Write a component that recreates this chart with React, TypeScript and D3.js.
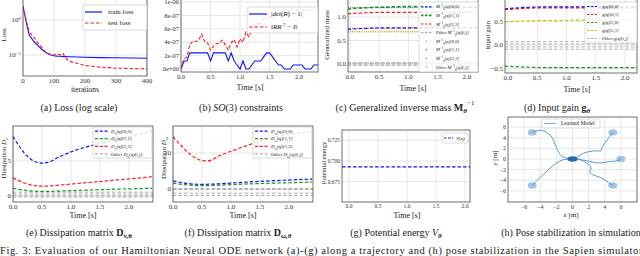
import React, { useEffect, useRef } from 'react';
import * as d3 from 'd3';

// (a) loss curves
const lossIters = [0, 5, 10, 20, 30, 40, 50, 60, 75, 90, 100, 110, 120, 130, 135, 150, 200, 250, 300, 350, 400];
const trainLoss = [2.5, 1.5, 0.9, 0.37, 0.28, 0.22, 0.18, 0.146, 0.116, 0.1, 0.095, 0.093, 0.092, 0.09, 0.09, 0.089, 0.086, 0.084, 0.083, 0.082, 0.081];
const testLoss = [2.5, 1.6, 1.0, 0.46, 0.36, 0.28, 0.21, 0.17, 0.112, 0.104, 0.1, 0.108, 0.1, 0.11, 0.085, 0.066, 0.05, 0.045, 0.042, 0.041, 0.04];

// (b) SO(3) constraint errors
const soTime = [0, 0.05, 0.1, 0.15, 0.2, 0.25, 0.3, 0.35, 0.4, 0.45, 0.5, 0.55, 0.6, 0.65, 0.7, 0.75, 0.8, 0.85, 0.9, 0.95, 1.0, 1.05, 1.1, 1.15, 1.2, 1.25, 1.3, 1.35, 1.4, 1.45, 1.5, 1.55, 1.6, 1.65, 1.7, 1.75, 1.8, 1.85, 1.9, 1.95, 2.0, 2.05, 2.1, 2.15, 2.2, 2.25, 2.3, 2.35];
const detErr = [0, 1.2e-7, 1.2e-7, 2.4e-7, 2.4e-7, 2.4e-7, 2.4e-7, 2.4e-7, 2.4e-7, 2.4e-7, 1.2e-7, 2.4e-7, 2.4e-7, 2.4e-7, 2.4e-7, 2.4e-7, 1.2e-7, 2.4e-7, 1.2e-7, 0.6e-7, 0, 1.2e-7, 0, 0, 0.6e-7, 1.2e-7, 1.2e-7, 1.2e-7, 1.8e-7, 2.4e-7, 2.4e-7, 1.8e-7, 1.2e-7, 0.6e-7, 0.6e-7, 0, 0, 0, 0.6e-7, 0.6e-7, 0.6e-7, 0.6e-7, 0, 0, 0, 0.6e-7, 0.6e-7, 0.6e-7];
const rrtErr = [0, 1.5e-7, 1.8e-7, 3.6e-7, 4.2e-7, 4.1e-7, 4.3e-7, 5.2e-7, 4.1e-7, 3.9e-7, 2.8e-7, 3.4e-7, 3.8e-7, 3.8e-7, 4.3e-7, 3.6e-7, 2.8e-7, 3.9e-7, 4.4e-7, 3.3e-7, 4.5e-7, 4.0e-7, 5.5e-7, 4.8e-7, 6.0e-7, 6.4e-7, 7.0e-7, 6.8e-7, 7.4e-7, 7.8e-7, 7.5e-7, 8.0e-7, 8.3e-7, 7.9e-7, 8.4e-7, 8.6e-7, 8.2e-7, 8.8e-7, 8.9e-7, 8.7e-7, 8.9e-7, 8.8e-7, 8.6e-7, 8.9e-7, 8.8e-7, 8.7e-7, 8.9e-7, 8.8e-7];

// (c) generalized inverse mass
const massTime = [-0.04, 0.3, 0.6, 0.9, 1.2, 1.5, 1.8, 2.1, 2.4];
const massInv00 = [0.74, 0.76, 0.77, 0.77, 0.77, 0.77, 0.77, 0.77, 0.77];
const massInv11 = [1.17, 1.2, 1.21, 1.22, 1.22, 1.21, 1.21, 1.21, 1.21];
const massInv22 = [1.07, 1.09, 1.1, 1.1, 1.1, 1.1, 1.1, 1.1, 1.1];
const massOther = [[0.03, 0.03, 0.03, 0.03, 0.03, 0.03, 0.03, 0.03, 0.03], [0, 0, 0, 0, 0, 0, 0, 0, 0], [-0.03, -0.03, -0.03, -0.03, -0.03, -0.03, -0.03, -0.03, -0.03]];
const massTrue00 = [0.76, 0.76, 0.76, 0.76, 0.76, 0.76, 0.76, 0.76, 0.76];
const massTrue11 = [1.2, 1.2, 1.2, 1.2, 1.2, 1.2, 1.2, 1.2, 1.2];
const massTrue22 = [0.69, 0.69, 0.69, 0.69, 0.69, 0.69, 0.69, 0.69, 0.69];
const massTrueOther = [0.01, 0.01, 0.01, 0.01, 0.01, 0.01, 0.01, 0.01, 0.01];

// (d) input gain
const gainTime = [-0.06, 0.3, 0.6, 0.9, 1.2, 1.5, 1.8, 2.1, 2.4];
const gain00 = [0.77, 0.8, 0.81, 0.81, 0.81, 0.81, 0.81, 0.81, 0.81];
const gain01 = [0.75, 0.78, 0.79, 0.79, 0.79, 0.79, 0.79, 0.79, 0.79];
const gain50 = [-0.45, -0.47, -0.48, -0.48, -0.48, -0.48, -0.48, -0.48, -0.48];
const gain51 = [0.49, 0.51, 0.52, 0.52, 0.53, 0.53, 0.53, 0.53, 0.53];
const gainOther = [[0.07, 0.07, 0.07, 0.07, 0.07, 0.07, 0.07, 0.07, 0.07], [0.02, 0.02, 0.02, 0.02, 0.02, 0.02, 0.02, 0.02, 0.02], [-0.04, -0.04, -0.04, -0.04, -0.04, -0.04, -0.04, -0.04, -0.04], [-0.09, -0.09, -0.09, -0.09, -0.09, -0.09, -0.09, -0.09, -0.09]];

// (e), (f) dissipation
const dissTime = [0, 0.1, 0.2, 0.3, 0.4, 0.5, 0.6, 0.8, 1.0, 1.2, 1.4, 1.6, 1.8, 2.0, 2.2, 2.4];
const dissV00 = [8.5, 7.2, 6.1, 5.3, 4.85, 4.7, 4.8, 5.6, 6.3, 6.85, 7.3, 7.7, 8.1, 8.5, 8.9, 9.3];
const dissV11 = [1.1, 0.95, 0.82, 0.72, 0.67, 0.65, 0.66, 0.7, 0.76, 0.82, 0.88, 0.93, 0.98, 1.02, 1.06, 1.1];
const dissV22 = [2.6, 2.2, 1.85, 1.6, 1.45, 1.4, 1.42, 1.55, 1.7, 1.85, 2.0, 2.15, 2.3, 2.45, 2.6, 2.75];
const dissVOther = [0.55, 0.3, 0.05, -0.15];
const dissW00 = [4.5, 3.9, 3.3, 2.9, 2.65, 2.6, 2.65, 2.9, 3.3, 3.7, 4.1, 4.4, 4.7, 5.0, 5.3, 5.5];
const dissW11 = [3.3, 2.8, 2.4, 2.1, 1.9, 1.85, 1.9, 2.1, 2.4, 2.7, 2.95, 3.15, 3.35, 3.5, 3.7, 3.9];
const dissW22 = [29, 25.5, 22, 19.2, 17, 15.8, 15.6, 18.5, 21, 23.3, 25.5, 27.4, 29, 30.3, 31.2, 32];
const dissWOther = [0.3, -0.3, -2.3, -3.6];

// (g) potential energy
const potTime = [-0.12, 0.5, 1.0, 1.5, 2.1];
const potential = [0.693, 0.693, 0.693, 0.693, 0.693];

// (h) pose stabilization trajectories [x, y] in m
const poseStarts = [[-5, 5], [5, 5], [6, 0], [5, -5], [-5, -5]];
const posePaths = [
  [[-5, 5], [-3.9, 5.4], [-2.7, 4.4], [-2.0, 2.2], [-1.4, 0.6], [-0.6, 0.1], [0, 0]],
  [[5, 5], [4.3, 3.6], [3.6, 1.9], [3.6, 1.6], [2.5, 1.5], [1.4, 1.1], [0.5, 0.3], [0, 0]],
  [[6, 0], [5.6, -0.3], [4.6, -0.5], [3.2, -0.75], [1.8, -0.35], [0.7, -0.05], [0, 0]],
  [[5, -5], [3.6, -3.6], [2.15, -2.6], [2.3, -1.7], [1.74, -0.75], [0.9, -0.13], [0, 0]],
  [[-5, -5], [-3.4, -2.6], [-2.2, -1.0], [-1.15, -0.15], [0, 0]],
];

const timeTicks = [0, 0.5, 1, 1.5, 2];
const FONT = "'Liberation Serif', 'Times New Roman', serif";
const GRID = '#d6d6d6';
const BLUE = '#1010ff';
const RED = '#ff1a1a';
const GREEN = '#1e961e';
const YELLOW = '#c8c800';
const GRAY = '#b0b0b0';
const DASH = '3.5 2';

type Part = [string, string?];

function rich(sel: any, parts: Part[]) {
  sel.style('font-family', FONT);
  parts.forEach(([t, k]) => {
    const s = sel.append('tspan').text(t);
    if (k && k.includes('sub')) s.attr('baseline-shift', 'sub').attr('font-size', '70%');
    if (k && k.includes('sup')) s.attr('baseline-shift', 'super').attr('font-size', '70%');
    if (k && k.includes('it')) s.attr('font-style', 'italic');
    if (k && k.includes('bf')) s.attr('font-weight', 'bold');
  });
}

function makePanel(svg: any, o: any) {
  const { id, box, xDom, yDom, xTicks, yTicks, fmtX, fmtY, log, fs } = o;
  const x = d3.scaleLinear().domain(xDom).range([box.l, box.r]);
  const y: any = log
    ? d3.scaleLog().domain(yDom).range([box.b, box.t])
    : d3.scaleLinear().domain(yDom).range([box.b, box.t]);
  svg.append('clipPath').attr('id', id).append('rect')
    .attr('x', box.l).attr('y', box.t).attr('width', box.r - box.l).attr('height', box.b - box.t);
  const g = svg.append('g');
  g.selectAll('.gx').data(xTicks).enter().append('line')
    .attr('x1', (d: number) => x(d)).attr('x2', (d: number) => x(d))
    .attr('y1', box.t).attr('y2', box.b).attr('stroke', GRID).attr('stroke-width', 0.6);
  g.selectAll('.gy').data(yTicks).enter().append('line')
    .attr('y1', (d: number) => y(d)).attr('y2', (d: number) => y(d))
    .attr('x1', box.l).attr('x2', box.r).attr('stroke', GRID).attr('stroke-width', 0.6);
  xTicks.forEach((d: number) => {
    const t = g.append('text').attr('x', x(d)).attr('y', box.b + 2 + fs * 0.75)
      .attr('text-anchor', 'middle').attr('font-size', fs).attr('fill', '#333');
    rich(t, fmtX(d));
  });
  yTicks.forEach((d: number) => {
    const t = g.append('text').attr('x', box.l - 2).attr('y', y(d) + fs * 0.35)
      .attr('text-anchor', 'end').attr('font-size', fs).attr('fill', '#333');
    rich(t, fmtY(d));
  });
  const plot = svg.append('g').attr('clip-path', `url(#${id})`);
  const frame = () => svg.append('rect').attr('x', box.l).attr('y', box.t)
    .attr('width', box.r - box.l).attr('height', box.b - box.t)
    .attr('fill', 'none').attr('stroke', '#333').attr('stroke-width', 0.7);
  return { x, y, plot, frame };
}

function series(p: any, xs: number[], ys: number[], color: string, dash: string | null, w = 1, curve: any = d3.curveLinear) {
  const line = d3.line<number>().x((_, i) => p.x(xs[i])).y((d) => p.y(d)).curve(curve);
  p.plot.append('path').attr('d', line(ys)).attr('fill', 'none').attr('stroke', color)
    .attr('stroke-width', w).attr('stroke-dasharray', dash);
}

function legend(svg: any, o: any) {
  const { x, y, w, h, row, fs, sample, gap, entries } = o;
  svg.append('rect').attr('x', x).attr('y', y).attr('width', w).attr('height', h)
    .attr('fill', '#fff').attr('fill-opacity', 0.85).attr('stroke', '#c4c4c4').attr('stroke-width', 0.6).attr('rx', 1);
  entries.forEach((e: any, i: number) => {
    const cy = y + (o.padY || 0) + row * (i + 0.5);
    const x0 = x + 2;
    if (e.dot) {
      svg.append('circle').attr('cx', x0 + sample / 2).attr('cy', cy).attr('r', 0.8).attr('fill', e.color);
    } else {
      svg.append('line').attr('x1', x0).attr('x2', x0 + sample).attr('y1', cy).attr('y2', cy)
        .attr('stroke', e.color).attr('stroke-width', e.w || 1.2).attr('stroke-dasharray', e.dash || null);
    }
    const t = svg.append('text').attr('x', x0 + sample + gap).attr('y', cy + fs * 0.35)
      .attr('font-size', fs).attr('fill', '#222');
    rich(t, e.label);
  });
}

function label(svg: any, x: number, y: number, parts: Part[], fs: number, rot = false, anchor = 'middle') {
  const t = svg.append('text').attr('x', x).attr('y', y).attr('font-size', fs).attr('fill', '#222')
    .attr('text-anchor', anchor).attr('dominant-baseline', 'central');
  if (rot) t.attr('transform', `rotate(-90 ${x} ${y})`);
  rich(t, parts);
}

const num = (dp: number) => (d: number): Part[] => [[d < 0 ? '\u2212' + Math.abs(d).toFixed(dp) : d.toFixed(dp)]];

const App = () => {
  const ref = useRef<SVGSVGElement>(null);

  useEffect(() => {
    const svg = d3.select(ref.current);
    svg.selectAll('*').remove();
    svg.append('rect').attr('width', 640).attr('height', 256).attr('fill', '#fff');

    // (a) loss
    const pa = makePanel(svg, {
      id: 'ca', box: { l: 23, r: 147, t: -1, b: 76 }, xDom: [0, 400], yDom: [0.0251, 3.98], log: true,
      xTicks: [0, 100, 200, 300, 400], yTicks: [1, 0.1], fs: 7,
      fmtX: num(0), fmtY: (d: number) => [['10'], [d === 1 ? '0' : '\u22121', 'sup']],
    });
    series(pa, lossIters, trainLoss, BLUE, null, 1.1);
    series(pa, lossIters, testLoss, RED, DASH, 1.1);
    pa.frame();
    legend(svg, {
      x: 83, y: 5, w: 64, h: 25, row: 11, padY: 1.5, fs: 7, sample: 17, gap: 6,
      entries: [{ color: BLUE, label: [['train loss']] }, { color: RED, dash: DASH, label: [['test loss']] }],
    });
    label(svg, 4, 35, [['Loss']], 7, true);
    label(svg, 85, 89, [['iterations']], 7.5);

    // (b) SO(3)
    const pb = makePanel(svg, {
      id: 'cb', box: { l: 181, r: 318, t: -1, b: 72 }, xDom: [0, 2.32], yDom: [-0.0448e-6, 1.045e-6],
      xTicks: timeTicks, yTicks: [0, 2e-7, 4e-7, 6e-7, 8e-7, 1e-6], fs: 6.5,
      fmtX: num(1),
      fmtY: (d: number) => [[['0e+00', '2e-07', '4e-07', '6e-07', '8e-07', '1e-06'][Math.round(d / 2e-7)]]],
    });
    series(pb, soTime, detErr, BLUE, null, 1.1);
    series(pb, soTime, rrtErr, RED, DASH, 1.1);
    pb.frame();
    legend(svg, {
      x: 247, y: 7, w: 71, h: 26, row: 13, padY: 0.5, fs: 7, sample: 18, gap: 4,
      entries: [
        { color: BLUE, label: [['|'], ['det', 'it'], ['('], ['R', 'it'], [') \u2212 1|']] },
        { color: RED, dash: DASH, label: [['\u2016'], ['RR', 'it'], ['\u22a4', 'sup'], [' \u2212 '], ['I', 'it'], ['\u2016']] },
      ],
    });
    label(svg, 250, 87, [['Time [s]']], 8);

    // (c) inverse mass
    const pc = makePanel(svg, {
      id: 'cc', box: { l: 348, r: 478, t: -1, b: 72 }, xDom: [-0.034, 2.19], yDom: [-0.17, 1.383],
      xTicks: timeTicks, yTicks: [0, 0.5, 1], fs: 7, fmtX: num(1), fmtY: num(1),
    });
    massOther.forEach((s) => series(pc, massTime, s, GRAY, DASH, 1));
    series(pc, massTime, massTrueOther, '#c09a9a', '0.9 1.4', 1.6);
    series(pc, massTime, massTrue22, '#a8a800', '0.9 1.4', 1.6);
    series(pc, massTime, massTrue11, '#4060e0', '0.9 1.4', 1.2);
    series(pc, massTime, massTrue00, '#ff6a3a', '0.9 1.4', 1.2);
    series(pc, massTime, massInv00, BLUE, DASH, 1.2, d3.curveMonotoneX);
    series(pc, massTime, massInv11, GREEN, DASH, 1.6, d3.curveMonotoneX);
    series(pc, massTime, massInv22, RED, DASH, 1.2, d3.curveMonotoneX);
    pc.frame();
    const mInv = (s: string, other = false): Part[] => [[other ? 'Other ' : ''], ['M', 'it'], ['\u22121', 'sup'], ['\u03b8', 'sub'], ['(q)' + s]];
    legend(svg, {
      x: 419, y: 2, w: 59, h: 70, row: 8.6, padY: 0.5, fs: 4.6, sample: 11, gap: 4,
      entries: [
        { color: BLUE, dash: '2.5 1.5', label: mInv('[0,0]') },
        { color: GREEN, dash: '2.5 1.5', w: 1.6, label: mInv('[1,1]') },
        { color: RED, dash: '2.5 1.5', label: mInv('[2,2]') },
        { color: GRAY, dash: '2.5 1.5', label: mInv('[i,j]', true) },
        { color: '#ff6a3a', dot: true, label: mInv('[0,0]') },
        { color: '#4060e0', dot: true, label: mInv('[1,1]') },
        { color: '#a8a800', dot: true, label: mInv('[2,2]') },
        { color: '#c09a9a', dot: true, label: mInv('[i,j]', true) },
      ],
    });
    label(svg, 327, 35, [['Generalized mass']], 7, true);
    label(svg, 413, 88, [['Time [s]']], 8);

    // (d) input gain
    const pd = makePanel(svg, {
      id: 'cd', box: { l: 505, r: 637, t: -1, b: 73 }, xDom: [-0.051, 2.205], yDom: [-0.596, 0.979],
      xTicks: timeTicks, yTicks: [-0.5, 0, 0.5], fs: 7, fmtX: num(1), fmtY: num(1),
    });
    gainOther.forEach((s) => series(pd, gainTime, s, GRAY, DASH, 1));
    series(pd, gainTime, gain51, YELLOW, DASH, 1.2, d3.curveMonotoneX);
    series(pd, gainTime, gain50, GREEN, DASH, 1.2, d3.curveMonotoneX);
    series(pd, gainTime, gain01, RED, DASH, 1.2, d3.curveMonotoneX);
    series(pd, gainTime, gain00, BLUE, DASH, 1.2, d3.curveMonotoneX);
    pd.frame();
    legend(svg, {
      x: 585, y: 2, w: 52, h: 41, row: 8, padY: 0.5, fs: 4.6, sample: 10, gap: 5,
      entries: [
        { color: BLUE, dash: '2.5 1.5', label: [['g(q)[0,0]']] },
        { color: RED, dash: '2.5 1.5', label: [['g(q)[0,1]']] },
        { color: GREEN, dash: '2.5 1.5', label: [['g(q)[5,0]']] },
        { color: YELLOW, dash: '2.5 1.5', label: [['g(q)[5,1]']] },
        { color: GRAY, dash: '2.5 1.5', label: [['Other g(q)[i,j]']] },
      ],
    });
    label(svg, 488, 35, [['Input gain']], 7, true);
    label(svg, 577, 89, [['Time [s]']], 8);

    // (e) dissipation D_v
    const pe = makePanel(svg, {
      id: 'ce', box: { l: 13, r: 153, t: 126, b: 202 }, xDom: [0, 2.414], yDom: [-0.857, 10],
      xTicks: timeTicks, yTicks: [0, 5], fs: 7, fmtX: num(1), fmtY: num(0),
    });
    dissVOther.forEach((v) => series(pe, [0, 2.414], [v, v], GRAY, DASH, 1));
    series(pe, dissTime, dissV11, GREEN, DASH, 1.2, d3.curveMonotoneX);
    series(pe, dissTime, dissV22, RED, DASH, 1.2, d3.curveMonotoneX);
    series(pe, dissTime, dissV00, BLUE, DASH, 1.2, d3.curveMonotoneX);
    pe.frame();
    const dv = (s: string, sub: string, other = false): Part[] => [[other ? 'Other ' : ''], ['D', 'it'], [sub, 'sub'], ['(q)' + s]];
    legend(svg, {
      x: 93, y: 127, w: 59, h: 31, row: 7.6, padY: 0.3, fs: 5, sample: 13, gap: 3,
      entries: [
        { color: BLUE, dash: '3 1.8', label: dv('[0,0]', 'v') },
        { color: GREEN, dash: '3 1.8', label: dv('[1,1]', 'v') },
        { color: RED, dash: '3 1.8', label: dv('[2,2]', 'v') },
        { color: GRAY, dash: '3 1.8', label: dv('[i,j]', 'v', true) },
      ],
    });
    label(svg, 4, 158, [['Dissipation '], ['D', 'it'], ['v', 'sub']], 7, true);
    label(svg, 83, 215, [['Time [s]']], 8);

    // (f) dissipation D_w
    const pf = makePanel(svg, {
      id: 'cf', box: { l: 173, r: 313, t: 126, b: 202 }, xDom: [0, 2.414], yDom: [-7.2, 35],
      xTicks: timeTicks, yTicks: [0, 20], fs: 7, fmtX: num(1), fmtY: num(0),
    });
    dissWOther.forEach((v) => series(pf, [0, 2.414], [v, v], GRAY, DASH, 1));
    series(pf, dissTime, dissW11, GREEN, DASH, 1.2, d3.curveMonotoneX);
    series(pf, dissTime, dissW00, BLUE, DASH, 1.2, d3.curveMonotoneX);
    series(pf, dissTime, dissW22, RED, DASH, 1.2, d3.curveMonotoneX);
    pf.frame();
    legend(svg, {
      x: 253, y: 127, w: 59, h: 31, row: 7.6, padY: 0.3, fs: 5, sample: 13, gap: 3,
      entries: [
        { color: BLUE, dash: '3 1.8', label: dv('[0,0]', '\u03c9') },
        { color: GREEN, dash: '3 1.8', label: dv('[1,1]', '\u03c9') },
        { color: RED, dash: '3 1.8', label: dv('[2,2]', '\u03c9') },
        { color: GRAY, dash: '3 1.8', label: dv('[i,j]', '\u03c9', true) },
      ],
    });
    label(svg, 164, 158, [['Dissipation '], ['D', 'it'], ['\u03c9', 'sub']], 7, true);
    label(svg, 243, 215, [['Time [s]']], 8);

    // (g) potential energy
    const pg = makePanel(svg, {
      id: 'cg', box: { l: 342, r: 470, t: 130, b: 202 }, xDom: [-0.12, 2.086], yDom: [0.6505, 0.7374],
      xTicks: timeTicks, yTicks: [0.675, 0.7, 0.725], fs: 5.5, fmtX: num(1), fmtY: num(3),
    });
    series(pg, potTime, potential, BLUE, DASH, 1.2);
    pg.frame();
    legend(svg, {
      x: 442, y: 133, w: 26, h: 10, row: 10, fs: 5, sample: 9, gap: 3,
      entries: [{ color: BLUE, dash: '2.5 1.5', label: [['V', 'it'], ['(q)']] }],
    });
    label(svg, 323, 163, [['Potential energy']], 6.5, true);
    label(svg, 407, 215, [['Time [s]']], 8);

    // (h) pose stabilization
    const ph = makePanel(svg, {
      id: 'ch', box: { l: 508, r: 637, t: 117, b: 202 }, xDom: [-8, 8], yDom: [-8.1, 7.9],
      xTicks: [-6, -4, -2, 0, 2, 4, 6], yTicks: [-6, -4, -2, 0, 2, 4, 6], fs: 6,
      fmtX: num(0), fmtY: num(0),
    });
    ph.plot.selectAll('.blob').data(poseStarts).enter().append('ellipse')
      .attr('cx', (d: number[]) => ph.x(d[0])).attr('cy', (d: number[]) => ph.y(d[1]))
      .attr('rx', 4.5).attr('ry', 3.2).attr('fill', '#a4c6e6');
    const pathLine = d3.line<number[]>().x((d) => ph.x(d[0])).y((d) => ph.y(d[1])).curve(d3.curveCatmullRom);
    posePaths.forEach((pts) => {
      ph.plot.append('path').attr('d', pathLine(pts)).attr('fill', 'none')
        .attr('stroke', '#4a8cc8').attr('stroke-width', 0.9);
    });
    ph.plot.append('ellipse').attr('cx', ph.x(0)).attr('cy', ph.y(0)).attr('rx', 5).attr('ry', 2.8).attr('fill', '#2a6aa5');
    ph.frame();
    legend(svg, {
      x: 542, y: 119, w: 58, h: 9, row: 9, fs: 5.5, sample: 12, gap: 5,
      entries: [{ color: '#7fb0dc', w: 1, label: [['Learned Model']] }],
    });
    label(svg, 495, 158, [['y', 'it'], [' [m]']], 7, true);
    label(svg, 571, 215, [['x', 'it'], [' [m]']], 7);

    // captions
    const cap = (x: number, y: number, parts: Part[]) => label(svg, x, y, parts, 10);
    cap(79, 107, [['(a) Loss (log scale)']]);
    cap(241, 107, [['(b) '], ['SO', 'it'], ['(3) constraints']]);
    cap(405, 107, [['(c) Generalized inverse mass '], ['M', 'bf'], ['\u03b8', 'sub bf it'], ['\u22121', 'sup']]);
    cap(557, 107, [['(d) Input gain '], ['g', 'bf'], ['\u03b8', 'sub bf it']]);
    cap(79, 232, [['(e) Dissipation matrix '], ['D', 'bf'], ['v,\u03b8', 'sub bf']]);
    cap(238, 232, [['(f) Dissipation matrix '], ['D', 'bf'], ['\u03c9,\u03b8', 'sub bf it']]);
    cap(396, 232, [['(g) Potential energy '], ['V', 'it'], ['\u03b8', 'sub bf it']]);
    cap(571, 232, [['(h) Pose stabilization in simulation']]);
    svg.append('text').attr('x', 0).attr('y', 254).attr('font-size', 10.5).attr('fill', '#222')
      .style('font-family', FONT)
      .attr('textLength', 645).attr('lengthAdjust', 'spacing')
      .text('Fig. 3: Evaluation of our Hamiltonian Neural ODE network (a)-(g) along a trajectory and (h) pose stabilization in the Sapien simulator.');

    return () => {
      svg.selectAll('*').remove();
    };
  }, []);

  return <svg ref={ref} width={640} height={256} style={{ position: 'absolute', left: 0, top: 0, fontFamily: FONT }} />;
};

export default App;
